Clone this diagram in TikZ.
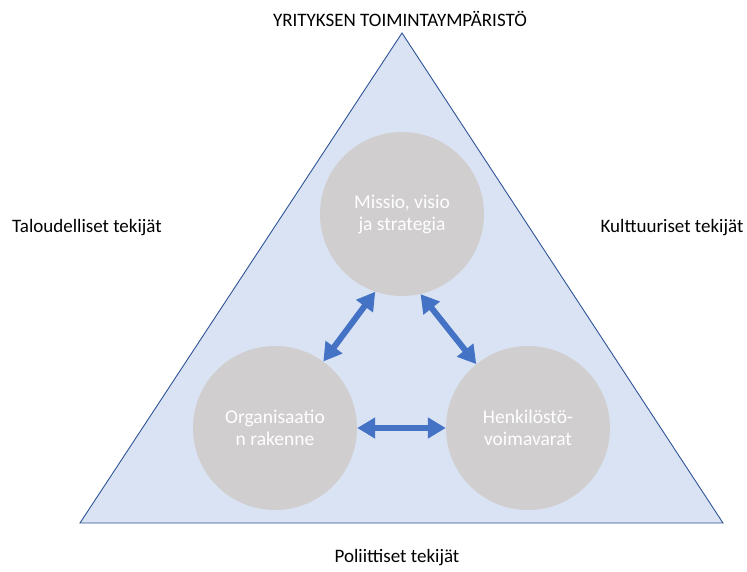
\documentclass[tikz,border=0pt]{standalone}
\usepackage{fontspec}
\setmainfont{Carlito}
\usetikzlibrary{arrows.meta}
\definecolor{envfill}{HTML}{DAE3F3}
\definecolor{envline}{HTML}{2F5597}
\definecolor{factor}{HTML}{D0CECE}
\definecolor{link}{HTML}{4472C4}
\tikzset{
  factorcircle/.style={circle,fill=factor,minimum size=164pt,inner sep=0pt,
    text=white,align=center,font=\fontsize{19.5}{22}\selectfont},
  sidelabel/.style={font=\fontsize{19}{22}\selectfont},
  linkarrow/.style={link,line width=6pt,{Triangle[length=18pt,width=20pt]}-{Triangle[length=18pt,width=20pt]}}
}
\begin{document}
\begin{tikzpicture}[x=1pt,y=-1pt]
\useasboundingbox (0,0) rectangle (747,571);
\filldraw[fill=envfill,draw=envline,line width=0.9pt] (402,33) -- (80,523) -- (723,523) -- cycle;

\node at (400,19) [sidelabel] (title) {YRITYKSEN TOIMINTAYMPÄRISTÖ};
\node at (87,228) [sidelabel] (talous) {Taloudelliset tekijät};
\node at (672,228) [sidelabel] (kulttuuri) {Kulttuuriset tekijät};
\node at (397,558) [sidelabel] (politiikka) {Poliittiset tekijät};

\node at (402,214) [factorcircle] (missio) {Missio, visio\\ja strategia};
\node at (275,428) [factorcircle] (org) {Organisaatio\\n rakenne};
\node at (528,428) [factorcircle] (henk) {Henkilöstö-\\voimavarat};

\draw[linkarrow] (missio.-109) -- (org.54);
\draw[linkarrow] (missio.-77) -- (henk.129);
\draw[linkarrow] (org.east) -- (henk.west);
\end{tikzpicture}
\end{document}
